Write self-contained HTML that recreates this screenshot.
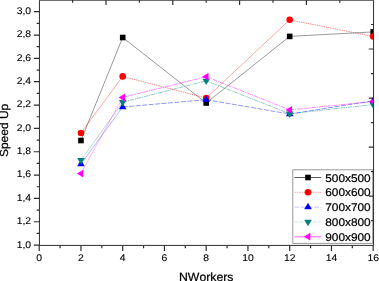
<!DOCTYPE html>
<html><head><meta charset="utf-8"><style>
html,body{margin:0;padding:0;background:#fff;}
body{width:379px;height:281px;overflow:hidden;}
svg{display:block;will-change:transform;}
text{font-family:"Liberation Sans",sans-serif;text-rendering:geometricPrecision;font-kerning:none;white-space:pre;}
.t{fill:#000;stroke:#000;stroke-width:0.22px;} .tl{fill:#000;stroke:#000;stroke-width:0.1px;}
</style></head><body>
<svg width="379" height="281" viewBox="0 0 379 281">
<defs><clipPath id="pc"><rect x="39.20" y="0.30" width="334.00" height="244.80"/></clipPath></defs>
<rect x="0" y="0" width="379" height="281" fill="#fff"/>

<g clip-path="url(#pc)">
<line x1="80.95" y1="140.50" x2="122.70" y2="37.50" stroke="#000" stroke-opacity="0.5" stroke-width="0.8"/>
<line x1="122.70" y1="37.50" x2="206.20" y2="103.00" stroke="#000" stroke-opacity="0.5" stroke-width="0.8"/>
<line x1="206.20" y1="103.00" x2="289.70" y2="36.40" stroke="#000" stroke-opacity="0.5" stroke-width="0.8"/>
<line x1="289.70" y1="36.40" x2="373.20" y2="31.90" stroke="#000" stroke-opacity="0.5" stroke-width="0.8"/>
<rect x="78.15" y="137.70" width="5.6" height="5.6" fill="#000000"/>
<rect x="119.90" y="34.70" width="5.6" height="5.6" fill="#000000"/>
<rect x="203.40" y="100.20" width="5.6" height="5.6" fill="#000000"/>
<rect x="286.90" y="33.60" width="5.6" height="5.6" fill="#000000"/>
<rect x="370.40" y="29.10" width="5.6" height="5.6" fill="#000000"/>
<line x1="80.95" y1="133.00" x2="122.70" y2="76.40" stroke="#ff0000" stroke-opacity="0.42" stroke-width="0.85"/>
<line x1="122.70" y1="76.40" x2="206.20" y2="98.10" stroke="#ff0000" stroke-opacity="0.6" stroke-width="0.8" stroke-dasharray="1.4 0.9"/>
<line x1="206.20" y1="98.10" x2="289.70" y2="19.80" stroke="#ff0000" stroke-opacity="0.42" stroke-width="0.85"/>
<line x1="289.70" y1="19.80" x2="373.20" y2="36.50" stroke="#ff0000" stroke-opacity="0.6" stroke-width="0.8" stroke-dasharray="1.4 0.9"/>
<circle cx="80.95" cy="133.00" r="3.3" fill="#ff0000"/>
<circle cx="122.70" cy="76.40" r="3.3" fill="#ff0000"/>
<circle cx="206.20" cy="98.10" r="3.3" fill="#ff0000"/>
<circle cx="289.70" cy="19.80" r="3.3" fill="#ff0000"/>
<circle cx="373.20" cy="36.50" r="3.3" fill="#ff0000"/>
<line x1="80.95" y1="164.00" x2="122.70" y2="107.00" stroke="#0000ff" stroke-opacity="0.35" stroke-width="0.85"/>
<line x1="122.70" y1="107.00" x2="206.20" y2="99.70" stroke="#0000ff" stroke-opacity="0.5" stroke-width="0.85" stroke-dasharray="5 1.5"/>
<line x1="206.20" y1="99.70" x2="289.70" y2="114.00" stroke="#0000ff" stroke-opacity="0.5" stroke-width="0.85" stroke-dasharray="5 1.5"/>
<line x1="289.70" y1="114.00" x2="373.20" y2="100.80" stroke="#0000ff" stroke-opacity="0.5" stroke-width="0.85" stroke-dasharray="5 1.5"/>
<polygon points="80.95,159.73 84.75,166.13 77.15,166.13" fill="#0000ff"/>
<polygon points="122.70,102.73 126.50,109.13 118.90,109.13" fill="#0000ff"/>
<polygon points="206.20,95.43 210.00,101.83 202.40,101.83" fill="#0000ff"/>
<polygon points="289.70,109.73 293.50,116.13 285.90,116.13" fill="#0000ff"/>
<polygon points="373.20,96.53 377.00,102.93 369.40,102.93" fill="#0000ff"/>
<line x1="80.95" y1="160.20" x2="122.70" y2="102.20" stroke="#008080" stroke-opacity="0.35" stroke-width="0.85"/>
<line x1="122.70" y1="102.20" x2="206.20" y2="80.80" stroke="#008080" stroke-opacity="0.5" stroke-width="0.85" stroke-dasharray="4.5 0.8 1.2 0.8"/>
<line x1="206.20" y1="80.80" x2="289.70" y2="113.70" stroke="#008080" stroke-opacity="0.5" stroke-width="0.85" stroke-dasharray="4.5 0.8 1.2 0.8"/>
<line x1="289.70" y1="113.70" x2="373.20" y2="104.60" stroke="#008080" stroke-opacity="0.5" stroke-width="0.85" stroke-dasharray="4.5 0.8 1.2 0.8"/>
<polygon points="77.15,158.07 84.75,158.07 80.95,164.47" fill="#008080"/>
<polygon points="118.90,100.07 126.50,100.07 122.70,106.47" fill="#008080"/>
<polygon points="202.40,78.67 210.00,78.67 206.20,85.07" fill="#008080"/>
<polygon points="285.90,111.57 293.50,111.57 289.70,117.97" fill="#008080"/>
<polygon points="369.40,102.47 377.00,102.47 373.20,108.87" fill="#008080"/>
<line x1="80.95" y1="173.60" x2="122.70" y2="97.40" stroke="#ff00ff" stroke-opacity="0.35" stroke-width="0.85"/>
<line x1="122.70" y1="97.40" x2="206.20" y2="76.70" stroke="#ff00ff" stroke-opacity="0.55" stroke-width="0.85" stroke-dasharray="4.5 0.8 1.2 0.8"/>
<line x1="206.20" y1="76.70" x2="289.70" y2="109.90" stroke="#ff00ff" stroke-opacity="0.55" stroke-width="0.85" stroke-dasharray="4.5 0.8 1.2 0.8"/>
<line x1="289.70" y1="109.90" x2="373.20" y2="101.50" stroke="#ff00ff" stroke-opacity="0.55" stroke-width="0.85" stroke-dasharray="4.5 0.8 1.2 0.8"/>
<polygon points="76.85,173.60 83.25,169.70 83.25,177.50" fill="#ff00ff"/>
<polygon points="118.60,97.40 125.00,93.50 125.00,101.30" fill="#ff00ff"/>
<polygon points="202.10,76.70 208.50,72.80 208.50,80.60" fill="#ff00ff"/>
<polygon points="285.60,109.90 292.00,106.00 292.00,113.80" fill="#ff00ff"/>
<polygon points="369.10,101.50 375.50,97.60 375.50,105.40" fill="#ff00ff"/>
</g>
<rect x="292.8" y="169.8" width="79.90" height="73.60" fill="#fff" stroke="#9a9a9a" stroke-width="1"/>
<line x1="294.5" y1="177.5" x2="321.3" y2="177.5" stroke="#000" stroke-opacity="0.72" stroke-width="0.9"/>
<rect x="305.20" y="174.70" width="5.6" height="5.6" fill="#000000"/>
<line x1="294.5" y1="192.3" x2="321.3" y2="192.3" stroke="#ff0000" stroke-opacity="0.4" stroke-width="0.9" stroke-dasharray="1.4 0.9"/>
<circle cx="308.00" cy="192.30" r="3.3" fill="#ff0000"/>
<line x1="294.5" y1="207.1" x2="321.3" y2="207.1" stroke="#0000ff" stroke-opacity="0.28" stroke-width="0.9" stroke-dasharray="5 1.5"/>
<polygon points="308.00,202.83 311.80,209.23 304.20,209.23" fill="#0000ff"/>
<line x1="294.5" y1="221.9" x2="321.3" y2="221.9" stroke="#008080" stroke-opacity="0.25" stroke-width="0.9" stroke-dasharray="3 1 1 1"/>
<polygon points="304.20,219.77 311.80,219.77 308.00,226.17" fill="#008080"/>
<line x1="294.5" y1="236.7" x2="321.3" y2="236.7" stroke="#ff00ff" stroke-opacity="0.45" stroke-width="1.5"/>
<polygon points="303.90,236.70 310.30,232.80 310.30,240.60" fill="#ff00ff"/>
<text class="t" transform="translate(325.20,181.50) scale(1.06,1)" font-size="11.2" text-anchor="start">500x500</text><text class="t" transform="translate(325.20,196.30) scale(1.06,1)" font-size="11.2" text-anchor="start">600x600</text><text class="t" transform="translate(325.20,211.10) scale(1.06,1)" font-size="11.2" text-anchor="start">700x700</text><text class="t" transform="translate(325.20,225.90) scale(1.06,1)" font-size="11.2" text-anchor="start">800x800</text><text class="t" transform="translate(325.20,240.70) scale(1.06,1)" font-size="11.2" text-anchor="start">900x900</text>
<path d="M39.45,0.2H373.55V245.4H39.45Z" fill="none" stroke="#2e2e2e" stroke-width="1"/>
<path d="M39.20,245.40v5.6 M60.08,245.40v2.8 M80.95,245.40v5.6 M101.83,245.40v2.8 M122.70,245.40v5.6 M143.57,245.40v2.8 M164.45,245.40v5.6 M185.32,245.40v2.8 M206.20,245.40v5.6 M227.07,245.40v2.8 M247.95,245.40v5.6 M268.82,245.40v2.8 M289.70,245.40v5.6 M310.57,245.40v2.8 M331.45,245.40v5.6 M352.32,245.40v2.8 M373.20,245.40v5.6 M39.45,245.10h-5.6 M39.45,233.43h-2.8 M39.45,221.76h-5.6 M39.45,210.09h-2.8 M39.45,198.42h-5.6 M39.45,186.75h-2.8 M39.45,175.08h-5.6 M39.45,163.41h-2.8 M39.45,151.74h-5.6 M39.45,140.07h-2.8 M39.45,128.40h-5.6 M39.45,116.73h-2.8 M39.45,105.06h-5.6 M39.45,93.39h-2.8 M39.45,81.72h-5.6 M39.45,70.05h-2.8 M39.45,58.38h-5.6 M39.45,46.71h-2.8 M39.45,35.04h-5.6 M39.45,23.37h-2.8 M39.45,11.70h-5.6 M72.60,0.20v2.5 M106.00,0.20v4.8 M139.40,0.20v2.5 M172.80,0.20v4.8 M206.20,0.20v2.5 M239.60,0.20v4.8 M273.00,0.20v2.5 M306.40,0.20v4.8 M339.80,0.20v2.5 M373.55,220.59h-2.5 M373.55,196.08h-4.8 M373.55,171.57h-2.5 M373.55,147.06h-4.8 M373.55,122.55h-2.5 M373.55,98.04h-4.8 M373.55,73.53h-2.5 M373.55,49.02h-4.8 M373.55,24.51h-2.5" stroke="#2e2e2e" stroke-width="1.2" fill="none"/>
<text class="tl" transform="translate(39.20,260.90) scale(1.07,1)" font-size="9.7" text-anchor="middle">0</text><text class="tl" transform="translate(80.95,260.90) scale(1.07,1)" font-size="9.7" text-anchor="middle">2</text><text class="tl" transform="translate(122.70,260.90) scale(1.07,1)" font-size="9.7" text-anchor="middle">4</text><text class="tl" transform="translate(164.45,260.90) scale(1.07,1)" font-size="9.7" text-anchor="middle">6</text><text class="tl" transform="translate(206.20,260.90) scale(1.07,1)" font-size="9.7" text-anchor="middle">8</text><text class="tl" transform="translate(247.95,260.90) scale(1.07,1)" font-size="9.7" text-anchor="middle">10</text><text class="tl" transform="translate(289.70,260.90) scale(1.07,1)" font-size="9.7" text-anchor="middle">12</text><text class="tl" transform="translate(331.45,260.90) scale(1.07,1)" font-size="9.7" text-anchor="middle">14</text><text class="tl" transform="translate(373.20,260.90) scale(1.07,1)" font-size="9.7" text-anchor="middle">16</text><text class="tl" transform="translate(31.10,247.50) scale(1.07,1)" font-size="9.7" text-anchor="end">1,0</text><text class="tl" transform="translate(31.10,224.16) scale(1.07,1)" font-size="9.7" text-anchor="end">1,2</text><text class="tl" transform="translate(31.10,200.82) scale(1.07,1)" font-size="9.7" text-anchor="end">1,4</text><text class="tl" transform="translate(31.10,177.48) scale(1.07,1)" font-size="9.7" text-anchor="end">1,6</text><text class="tl" transform="translate(31.10,154.14) scale(1.07,1)" font-size="9.7" text-anchor="end">1,8</text><text class="tl" transform="translate(31.10,130.80) scale(1.07,1)" font-size="9.7" text-anchor="end">2,0</text><text class="tl" transform="translate(31.10,107.46) scale(1.07,1)" font-size="9.7" text-anchor="end">2,2</text><text class="tl" transform="translate(31.10,84.12) scale(1.07,1)" font-size="9.7" text-anchor="end">2,4</text><text class="tl" transform="translate(31.10,60.78) scale(1.07,1)" font-size="9.7" text-anchor="end">2,6</text><text class="tl" transform="translate(31.10,37.44) scale(1.07,1)" font-size="9.7" text-anchor="end">2,8</text><text class="tl" transform="translate(31.10,14.10) scale(1.07,1)" font-size="9.7" text-anchor="end">3,0</text>
<text class="t" transform="translate(206.20,280.80) scale(1.03,1)" font-size="11.9" text-anchor="middle">NWorkers</text>
<text class="t" transform="translate(8.40,130.40) rotate(-90) scale(1.035,1)" font-size="11.6" text-anchor="middle">Speed Up</text>
</svg></body></html>
